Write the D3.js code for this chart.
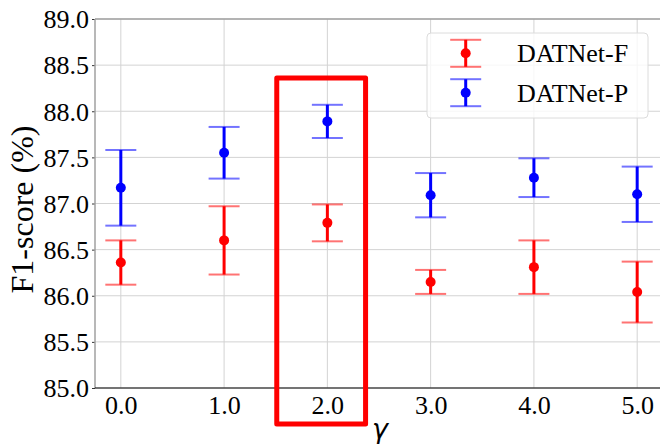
<!DOCTYPE html>
<html>
<head>
<meta charset="utf-8">
<script src="https://cdn.jsdelivr.net/npm/d3@7"></script>
<style>
  body { margin: 0; background: #fff; }
  svg { display: block; }
</style>
</head>
<body>
<svg width="660" height="444" font-family="Liberation Serif"></svg>
<script>
// ---------------- data ----------------
var gammas = [0, 1, 2, 3, 4, 5];
var xTicks = ["0.0", "1.0", "2.0", "3.0", "4.0", "5.0"];
var yTicks = [85.0, 85.5, 86.0, 86.5, 87.0, 87.5, 88.0, 88.5, 89.0];

var datnetF = [86.36, 86.60, 86.79, 86.15, 86.31, 86.04];
var datnetFErr = [0.24, 0.37, 0.20, 0.13, 0.29, 0.33];
var datnetP = [87.17, 87.55, 87.89, 87.09, 87.28, 87.10];
var datnetPErr = [0.41, 0.28, 0.18, 0.24, 0.21, 0.30];

var seriesNames = ["DATNet-F", "DATNet-P"];
var seriesColors = ["#ff0000", "#0000ff"];

// highlight box around gamma = 2.0 (x0, x1, y0, y1 in data units)
var highlight = [1.51, 2.37, 84.61, 88.36];

// ---------------- layout ----------------
var svg = d3.select("svg");
var plot = {l: 95, t: 19, r: 663, b: 388};
var serif = "Liberation Serif";

var x = d3.scaleLinear().domain([-0.25, 5.25]).range([plot.l, plot.r]);
var y = d3.scaleLinear().domain([85, 89]).range([plot.b, plot.t]);

// grid
var grid = svg.append("g");
grid.selectAll(".gx").data(gammas).enter().append("line")
    .attr("x1", function(d) { return x(d); }).attr("x2", function(d) { return x(d); })
    .attr("y1", plot.t).attr("y2", plot.b)
    .attr("stroke", "#d3d3d3").attr("stroke-width", 1);
grid.selectAll(".gy").data(yTicks).enter().append("line")
    .attr("x1", plot.l).attr("x2", plot.r)
    .attr("y1", function(d) { return y(d); }).attr("y2", function(d) { return y(d); })
    .attr("stroke", "#d3d3d3").attr("stroke-width", 1);

// axes
var yAxis = svg.append("g")
    .attr("transform", "translate(" + plot.l + ",0)")
    .call(d3.axisLeft(y).tickValues(yTicks).tickFormat(d3.format(".1f")).tickSize(3).tickPadding(3))
    .attr("font-family", serif).attr("font-size", 26);
yAxis.select(".domain").remove();
yAxis.selectAll("text").attr("dy", "0.34em").attr("fill", "#000");
yAxis.selectAll("line").attr("stroke", "#333");

var xAxis = svg.append("g")
    .attr("transform", "translate(0," + plot.b + ")")
    .call(d3.axisBottom(x).tickValues(gammas).tickFormat(function(d, i) { return xTicks[i]; }).tickSize(0).tickPadding(8))
    .attr("font-family", serif).attr("font-size", 26);
xAxis.select(".domain").remove();
xAxis.selectAll("text").attr("fill", "#000");

// spines
svg.append("line").attr("x1", plot.l).attr("x2", plot.r).attr("y1", plot.t).attr("y2", plot.t)
    .attr("stroke", "#a0a0a0").attr("stroke-width", 1.5);
svg.append("line").attr("x1", plot.l).attr("x2", plot.l).attr("y1", plot.t).attr("y2", plot.b)
    .attr("stroke", "#a0a0a0").attr("stroke-width", 1.5);
svg.append("line").attr("x1", plot.l).attr("x2", plot.r).attr("y1", plot.b).attr("y2", plot.b)
    .attr("stroke", "#000").attr("stroke-width", 1.2);

// axis labels
svg.append("text")
    .attr("transform", "translate(33," + ((plot.t + plot.b) / 2 + 6) + ") rotate(-90)")
    .attr("text-anchor", "middle")
    .attr("font-size", 32)
    .text("F1-score (%)");
svg.append("text")
    .attr("x", 380)
    .attr("y", 438)
    .attr("text-anchor", "middle")
    .attr("font-family", "DejaVu Sans")
    .attr("font-style", "italic")
    .attr("font-size", 27)
    .text("γ");

// ---------------- error bars ----------------
var capHalf = 15.5;
function drawSeries(vals, errs, color) {
    var g = svg.append("g");
    var pts = gammas.map(function(d, i) { return {x: d, v: vals[i], e: errs[i]}; });
    g.selectAll(".bar").data(pts).enter().append("line")
        .attr("x1", function(d) { return x(d.x); }).attr("x2", function(d) { return x(d.x); })
        .attr("y1", function(d) { return y(d.v - d.e); }).attr("y2", function(d) { return y(d.v + d.e); })
        .attr("stroke", color).attr("stroke-width", 3);
    g.selectAll(".capT").data(pts).enter().append("line")
        .attr("x1", function(d) { return x(d.x) - capHalf; }).attr("x2", function(d) { return x(d.x) + capHalf; })
        .attr("y1", function(d) { return y(d.v + d.e); }).attr("y2", function(d) { return y(d.v + d.e); })
        .attr("stroke", color).attr("stroke-opacity", 0.55).attr("stroke-width", 2);
    g.selectAll(".capB").data(pts).enter().append("line")
        .attr("x1", function(d) { return x(d.x) - capHalf; }).attr("x2", function(d) { return x(d.x) + capHalf; })
        .attr("y1", function(d) { return y(d.v - d.e); }).attr("y2", function(d) { return y(d.v - d.e); })
        .attr("stroke", color).attr("stroke-opacity", 0.55).attr("stroke-width", 2);
    g.selectAll(".dot").data(pts).enter().append("circle")
        .attr("cx", function(d) { return x(d.x); })
        .attr("cy", function(d) { return y(d.v); })
        .attr("r", 5).attr("fill", color);
}
drawSeries(datnetF, datnetFErr, seriesColors[0]);
drawSeries(datnetP, datnetPErr, seriesColors[1]);

// highlight rectangle
svg.append("rect")
    .attr("x", x(highlight[0]))
    .attr("y", y(highlight[3]))
    .attr("width", x(highlight[1]) - x(highlight[0]))
    .attr("height", y(highlight[2]) - y(highlight[3]))
    .attr("fill", "none")
    .attr("stroke", "#ff0000")
    .attr("stroke-width", 5)
    .attr("stroke-linejoin", "round");

// ---------------- legend ----------------
var legendG = svg.append("g");
legendG.append("rect")
    .attr("x", 427).attr("y", 33).attr("width", 221).attr("height", 85)
    .attr("rx", 4)
    .attr("fill", "#fff").attr("fill-opacity", 0.8)
    .attr("stroke", "#dcdcdc").attr("stroke-width", 1);
seriesNames.forEach(function(name, i) {
    var cy = 53.3 + i * 39.4;
    var cx = 465.7;
    legendG.append("line").attr("x1", cx).attr("x2", cx).attr("y1", cy - 13.5).attr("y2", cy + 13.5)
        .attr("stroke", seriesColors[i]).attr("stroke-width", 3);
    legendG.append("line").attr("x1", cx - capHalf).attr("x2", cx + capHalf).attr("y1", cy - 13.5).attr("y2", cy - 13.5)
        .attr("stroke", seriesColors[i]).attr("stroke-opacity", 0.55).attr("stroke-width", 2);
    legendG.append("line").attr("x1", cx - capHalf).attr("x2", cx + capHalf).attr("y1", cy + 13.5).attr("y2", cy + 13.5)
        .attr("stroke", seriesColors[i]).attr("stroke-opacity", 0.55).attr("stroke-width", 2);
    legendG.append("circle").attr("cx", cx).attr("cy", cy).attr("r", 5).attr("fill", seriesColors[i]);
    legendG.append("text").attr("x", 517).attr("y", cy + 9)
        .attr("font-size", 26).text(name);
});
</script>
</body>
</html>
